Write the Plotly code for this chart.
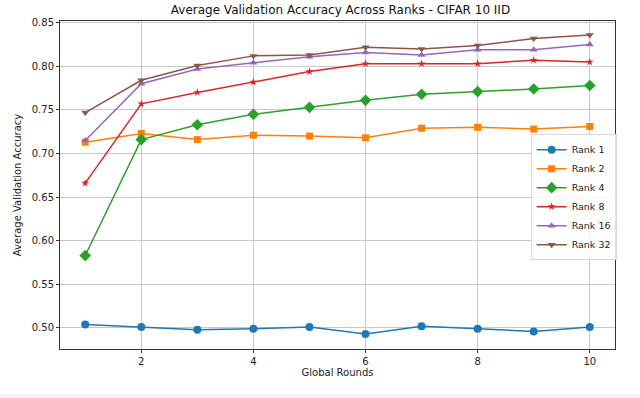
import plotly.graph_objects as go

rounds = [1, 2, 3, 4, 5, 6, 7, 8, 9, 10]

rank_1 = [0.504, 0.501, 0.498, 0.499, 0.501, 0.493, 0.502, 0.499, 0.496, 0.501]
rank_2 = [0.713, 0.723, 0.716, 0.721, 0.720, 0.718, 0.729, 0.730, 0.728, 0.731]
rank_4 = [0.583, 0.716, 0.733, 0.745, 0.753, 0.761, 0.768, 0.771, 0.774, 0.778]
rank_8 = [0.666, 0.757, 0.770, 0.782, 0.794, 0.803, 0.803, 0.803, 0.807, 0.805]
rank_16 = [0.715, 0.780, 0.797, 0.804, 0.811, 0.816, 0.813, 0.819, 0.819, 0.825]
rank_32 = [0.747, 0.784, 0.801, 0.812, 0.813, 0.822, 0.820, 0.824, 0.832, 0.836]

series = [
    ("Rank 1", rank_1, "#1f77b4", "circle", 8),
    ("Rank 2", rank_2, "#ff7f0e", "square", 7),
    ("Rank 4", rank_4, "#2ca02c", "diamond", 9),
    ("Rank 8", rank_8, "#d62728", "star", 6),
    ("Rank 16", rank_16, "#9467bd", "triangle-up", 7),
    ("Rank 32", rank_32, "#8c564b", "triangle-down", 7),
]

fig = go.Figure()
for name, vals, color, symbol, size in series:
    fig.add_trace(go.Scatter(
        x=rounds, y=vals, name=name, mode="lines+markers",
        line=dict(color=color, width=1.5),
        marker=dict(symbol=symbol, size=size, color=color),
    ))

font = "DejaVu Sans"
fig.update_layout(
    width=640, height=398,
    margin=dict(l=60, r=25, t=21, b=49),
    paper_bgcolor="white", plot_bgcolor="white",
    font=dict(family=font, size=10, color="#222"),
    title=dict(text="Average Validation Accuracy Across Ranks - CIFAR 10 IID",
               x=0.532, xanchor="center", y=0.975, yanchor="middle",
               font=dict(size=12, color="#111")),
    showlegend=True,
    legend=dict(x=0.848, y=0.655, xanchor="left", yanchor="top",
                bgcolor="rgba(255,255,255,0.85)", bordercolor="#d8d8d8", borderwidth=1,
                font=dict(size=9.5), tracegroupgap=0, itemwidth=30),
    shapes=[dict(type="rect", xref="paper", yref="paper", x0=-0.2, x1=1.2,
                 y0=-0.2, y1=-0.14, fillcolor="#f3f3f3", line=dict(width=0),
                 layer="below")],
)
fig.update_xaxes(
    range=[0.55, 10.45], tickvals=[2, 4, 6, 8, 10],
    showgrid=True, gridcolor="#c8c8c8", gridwidth=1,
    showline=True, linecolor="#333", linewidth=1, mirror=True,
    ticks="outside", ticklen=3, tickcolor="#333", zeroline=False,
    title=dict(text="Global Rounds", font=dict(size=10), standoff=2),
)
fig.update_yaxes(
    range=[0.4758, 0.852], tickvals=[0.50, 0.55, 0.60, 0.65, 0.70, 0.75, 0.80, 0.85],
    tickformat=".2f",
    showgrid=True, gridcolor="#c8c8c8", gridwidth=1,
    showline=True, linecolor="#333", linewidth=1, mirror=True,
    ticks="outside", ticklen=3, tickcolor="#333", zeroline=False,
    title=dict(text="Average Validation Accuracy", font=dict(size=10), standoff=8),
)

fig.write_html("out.html", config={"displayModeBar": False},
               post_script="document.body.style.margin='0';")
